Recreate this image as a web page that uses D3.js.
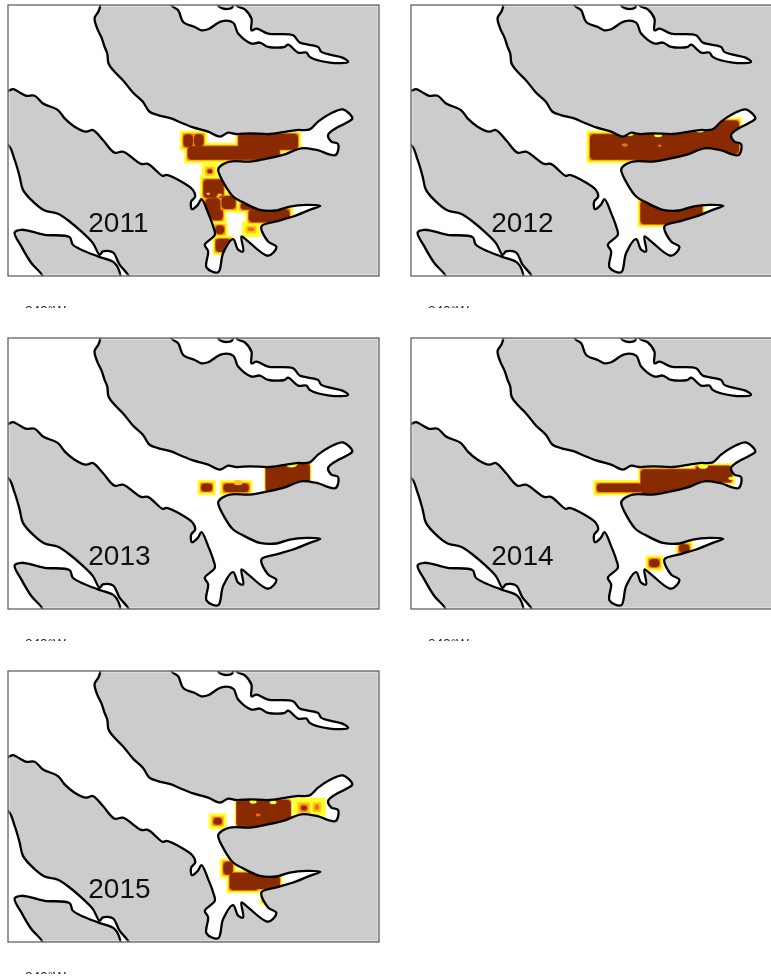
<!doctype html>
<html>
<head>
    <meta charset="UTF-8">
    <script src="https://d3js.org/d3.v7.min.js"></script>
    <style>
        body { margin: 0; background: #fff; }
        svg { display: block; }
        text { font-family: "Liberation Sans", Arial, sans-serif; }
    </style>
</head>
<body>
    <svg id="my_dataviz" width="771" height="976"></svg>
    <script>

        // Map extent, in digitised map units
        var mapX = [24, 1138];
        var mapY = [14, 829];

        var years = ["2011", "2012", "2013", "2014", "2015"];
        var tickLabel = "240°W";

        // Coast outlines (map units), every open water body
        var waterMain = [[301, -20], [301, 15], [296, 33], [284, 53], [292, 85], [306, 115], [314, 140], [322, 160], [326, 190], [344, 215], [369, 240], [399, 277], [429, 305], [449, 335], [474, 345], [514, 355], [544, 368], [580, 382], [625, 395], [660, 410], [685, 398], [710, 402], [750, 400], [810, 402], [850, 396], [890, 390], [930, 388], [955, 365], [990, 342], [1030, 328], [1058, 355], [1040, 368], [1000, 390], [985, 405], [995, 425], [1015, 432], [1008, 465], [950, 450], [905, 445], [850, 465], [790, 478], [750, 485], [690, 485], [660, 500], [655, 510], [675, 555], [700, 590], [725, 605], [780, 630], [830, 632], [870, 620], [920, 615], [962, 618], [930, 630], [880, 650], [830, 665], [785, 680], [805, 725], [830, 742], [805, 768], [745, 725], [725, 710], [730, 755], [715, 750], [700, 718], [670, 760], [655, 818], [620, 803], [625, 755], [615, 735], [645, 705], [640, 680], [625, 640], [605, 598], [594, 615], [576, 628], [574, 605], [586, 590], [579, 570], [544, 545], [499, 525], [489, 528], [444, 492], [424, 492], [369, 455], [344, 458], [309, 420], [279, 390], [259, 395], [224, 380], [194, 355], [174, 330], [129, 310], [104, 287], [79, 287], [59, 277], [39, 267], [24, 272], [-20, 272], [-20, -20]];
        var waterWest = [[-20, 435], [24, 435], [44, 480], [59, 530], [69, 570], [104, 610], [134, 632], [174, 642], [209, 665], [244, 695], [279, 730], [299, 765], [309, 755], [339, 758], [359, 795], [386, 829], [386, 850], [362, 850], [362, 828], [344, 790], [309, 775], [294, 770], [219, 735], [209, 712], [134, 705], [64, 690], [44, 698], [64, 740], [94, 790], [127, 828], [127, 850], [-20, 850]];
        var waterNorth = [[515, -20], [515, 15], [535, 30], [550, 65], [585, 80], [605, 90], [625, 87], [665, 63], [700, 67], [715, 100], [755, 130], [780, 127], [805, 140], [855, 140], [865, 133], [895, 157], [920, 157], [930, 170], [990, 187], [1045, 185], [1030, 173], [965, 155], [955, 140], [900, 127], [880, 105], [805, 100], [770, 85], [755, 90], [755, 55], [735, 27], [710, 15], [710, -20]];
        var islet = [[655, -20], [655, 15], [670, 25], [695, 23], [700, 15], [700, -20]];

        // Density patches: x0, y0, x1, y1, falloff, top colour level
        var patches2011 = [[540, 392, 590, 452, 3.5, 3], [572, 392, 622, 450, 3.5, 3], [553, 428, 850, 490, 3.5, 3], [706, 392, 904, 458, 3, 3], [605, 490, 655, 538, 6, 3], [600, 528, 682, 604, 3.5, 3], [606, 585, 672, 660, 3.5, 3], [655, 578, 718, 638, 3.5, 3], [712, 598, 790, 640, 3.5, 3], [736, 618, 880, 678, 3.5, 3], [726, 665, 782, 712, 7, 2], [622, 618, 680, 672, 3.5, 3], [636, 666, 684, 714, 3.5, 3], [638, 708, 702, 766, 3, 3]];
        var patches2012 = [[551, 392, 720, 490, 3.5, 3], [690, 380, 950, 500, 3.5, 3], [925, 352, 1018, 470, 3, 3], [704, 594, 908, 682, 3, 3]];
        var patches2013 = [[593, 441, 648, 486, 3.5, 3], [660, 441, 758, 488, 3.5, 3], [793, 386, 935, 481, 1.5, 3]];
        var patches2014 = [[571, 441, 730, 488, 3.5, 3], [706, 401, 895, 491, 2.5, 3], [871, 391, 996, 456, 2.5, 3], [728, 668, 781, 714, 3.5, 3], [818, 624, 871, 671, 3.5, 3]];
        var patches2015 = [[627, 442, 680, 490, 4.5, 3], [705, 397, 878, 487, 1.5, 3], [880, 395, 945, 457, 8, 3], [925, 395, 978, 452, 8, 2], [660, 577, 710, 637, 3.5, 3], [680, 612, 785, 682, 3, 3], [750, 622, 848, 677, 2.5, 3], [780, 672, 798, 717, 3, 1]];

        // Thin spots inside the dense core: x, y, radius, colour level
        var specks2011 = [[625, 582, 4, 1], [660, 585, 5, 1], [655, 590, 4, 1]];
        var specks2012 = [[666, 435, 6, 2], [771, 437, 4, 2], [681, 402, 7, 0], [766, 405, 8, 0], [891, 390, 9, 0]];
        var specks2013 = [[715, 449, 9, 1], [875, 393, 12, 0]];
        var specks2014 = [[901, 399, 10, 0], [986, 436, 6, 0]];
        var specks2015 = [[775, 447, 5, 2], [760, 407, 7, 0], [820, 409, 7, 0]];

        var allPatches = [patches2011, patches2012, patches2013, patches2014, patches2015];
        var allSpecks = [specks2011, specks2012, specks2013, specks2014, specks2015];

        var heatColors = ["#ffff2e", "#ffc414", "#ee6f14", "#8a2c00"];
        var levelInset = [0, 1.7, 2.5, 3];
        var landColor = "#cccccc";
        var panelW = 371, panelH = 271;

        var svg = d3.select("svg");

        var x = d3.scaleLinear().domain(mapX).range([0, panelW]);
        var y = d3.scaleLinear().domain(mapY).range([0, panelH]);
        var line = d3.line()
            .x(function (d) { return x(d[0]); })
            .y(function (d) { return y(d[1]); })
            .curve(d3.curveCatmullRom.alpha(0.5));

        // Panel placement
        var col = d3.scalePoint().domain([0, 1]).range([8, 411]);
        var row = d3.scalePoint().domain([0, 1, 2]).range([5, 671]);

        var defs = svg.append("defs");
        defs.append("clipPath").attr("id", "panel-clip").append("rect").attr("width", panelW).attr("height", panelH);
        defs.append("clipPath").attr("id", "water-clip").append("path").attr("d", line(waterMain) + "Z");
        defs.append("clipPath").attr("id", "tick-clip").append("rect").attr("x", -8).attr("y", panelH).attr("width", panelW).attr("height", 32);
        defs.append("filter").attr("id", "soft").append("feGaussianBlur").attr("stdDeviation", 0.4);
        defs.append("filter").attr("id", "heat-soft").append("feGaussianBlur").attr("stdDeviation", 0.6);

        years.forEach(function (year, i) {
            var g = svg.append("g")
                .attr("transform", "translate(" + col(i % 2) + "," + row(Math.floor(i / 2)) + ")")
                .attr("filter", "url(#soft)");

            var map = g.append("g").attr("clip-path", "url(#panel-clip)");

            // Land, then water on top of it
            map.append("rect").attr("width", panelW).attr("height", panelH).attr("fill", landColor);
            map.selectAll("path.water")
                .data([waterMain, waterWest, waterNorth])
                .enter().append("path")
                .attr("class", "water")
                .attr("fill", "#fff")
                .attr("d", function (d) { return line(d) + "Z"; });
            map.append("path").attr("fill", landColor).attr("d", line(islet) + "Z");

            // Density, one colour level at a time so cores sit on top of halos
            var heat = map.append("g").attr("clip-path", "url(#water-clip)")
                .append("g").attr("filter", "url(#heat-soft)");
            heatColors.forEach(function (color, level) {
                var inset = levelInset[level];
                heat.selectAll("rect.l" + level)
                    .data(allPatches[i].filter(function (p) { return p[5] >= level; }))
                    .enter().append("rect")
                    .attr("class", "l" + level)
                    .attr("x", function (p) { return x(p[0] + p[4] * inset); })
                    .attr("y", function (p) { return y(p[1] + p[4] * inset); })
                    .attr("width", function (p) { return x(p[2] - p[4] * inset) - x(p[0] + p[4] * inset); })
                    .attr("height", function (p) { return y(p[3] - p[4] * inset) - y(p[1] + p[4] * inset); })
                    .attr("rx", level * 1.4)
                    .attr("fill", color);
            });
            heat.selectAll("ellipse")
                .data(allSpecks[i])
                .enter().append("ellipse")
                .attr("cx", function (d) { return x(d[0]); })
                .attr("cy", function (d) { return y(d[1]); })
                .attr("rx", function (d) { return d[2] * 0.5; })
                .attr("ry", function (d) { return d[2] * 0.28; })
                .attr("fill", function (d) { return heatColors[d[3]]; });

            // Coast line
            map.selectAll("path.coast")
                .data([waterMain, waterWest, waterNorth, islet])
                .enter().append("path")
                .attr("class", "coast")
                .attr("fill", "none")
                .attr("stroke", "#000")
                .attr("stroke-width", 2.3)
                .attr("stroke-linejoin", "round")
                .attr("d", function (d) { return line(d) + "Z"; });

            // Light inner edge, then the frame
            g.append("rect")
                .attr("x", 1).attr("y", 1)
                .attr("width", panelW - 2).attr("height", panelH - 2)
                .attr("fill", "none").attr("stroke", "#fff").attr("stroke-opacity", 0.6);
            g.append("rect")
                .attr("width", panelW).attr("height", panelH)
                .attr("fill", "none").attr("stroke", "#555").attr("stroke-width", 1.2);

            g.append("text")
                .attr("x", x(265)).attr("y", y(697))
                .attr("font-size", 28)
                .attr("fill", "#111")
                .text(year);

            // Longitude label, cut off by the panel's image edge as in the source
            g.append("g").attr("clip-path", "url(#tick-clip)")
                .append("text")
                .attr("x", 17).attr("y", 310)
                .attr("font-size", 13.6)
                .attr("fill", "#222")
                .text(tickLabel);
        });

    </script>
</body>
</html>
